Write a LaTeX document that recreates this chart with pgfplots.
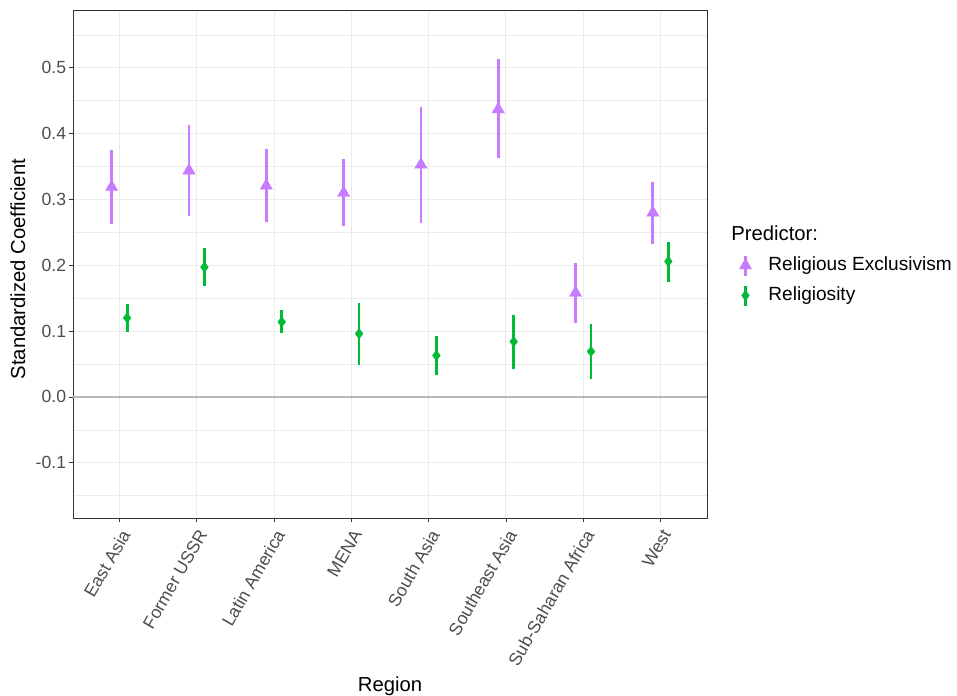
\documentclass[border=0pt]{standalone}
\usepackage{pgfplots}
\usepackage{pgfplotstable}
\pgfplotsset{compat=1.18}
\usepackage{fontspec}
\setmainfont{Liberation Sans}
\definecolor{cRE}{HTML}{C77CFF}
\definecolor{cRel}{HTML}{00BA38}
\definecolor{gridc}{HTML}{EBEBEB}
\definecolor{g30}{HTML}{4D4D4D}
\definecolor{g20}{HTML}{333333}
\pgfplotstableread{
x y lo hi
0.9 0.319 0.263 0.375
1.9 0.344 0.275 0.413
2.9 0.321 0.266 0.377
3.9 0.310 0.260 0.361
4.9 0.353 0.265 0.440
5.9 0.437 0.363 0.513
6.9 0.158 0.113 0.203
7.9 0.280 0.232 0.326
}\tabRE
\pgfplotstableread{
x y lo hi
1.1 0.120 0.098 0.141
2.1 0.197 0.169 0.226
3.1 0.114 0.097 0.132
4.1 0.096 0.049 0.142
5.1 0.063 0.033 0.093
6.1 0.084 0.042 0.125
7.1 0.069 0.027 0.111
8.1 0.206 0.175 0.236
}\tabRel
\begin{document}
\begin{tikzpicture}
\useasboundingbox (0,0) rectangle (717.75pt,522pt);
\begin{axis}[
  at={(54.75pt,133.5pt)}, anchor=south west,
  scale only axis, width=475.5pt, height=381pt,
  xmin=0.4, xmax=8.6, ymin=-0.184, ymax=0.588,
  xtick={1,...,8},
  xticklabels={East Asia,Former USSR,Latin America,MENA,South Asia,Southeast Asia,Sub-Saharan Africa,West},
  ytick={-0.1,0,0.1,0.2,0.3,0.4,0.5},
  yticklabels={-0.1,0.0,0.1,0.2,0.3,0.4,0.5},
  minor ytick={-0.15,-0.05,0.05,0.15,0.25,0.35,0.45,0.55},
  grid=both,
  major grid style={gridc, line width=0.75pt},
  minor grid style={gridc, line width=0.45pt},
  axis line style={g20, line width=0.5pt},
  tick align=outside, major tick length=3pt, minor tick length=0pt,
  tick style={g20, line width=0.6pt},
  xtick pos=bottom, ytick pos=left,
  ticklabel style={text=g30, font=\fontsize{13.2}{15}\selectfont},
  xticklabel style={yshift=-3pt, rotate=60, anchor=north east, inner sep=1pt},
  yticklabel style={inner sep=2pt},
  xlabel={Region}, ylabel={Standardized Coefficient},
  label style={font=\fontsize{15.2}{18}\selectfont, text=black},
  xlabel style={at={(axis description cs:0.5,-0.331)}, anchor=center},
  ylabel style={at={(axis description cs:-0.0868,0.49)}, anchor=center, rotate=0},
  error bars/y dir=both, error bars/y explicit,
  error bars/error mark=none,
  error bars/error bar style={line width=2.1pt},
  legend style={at={(axis description cs:1.041,0.4675)}, anchor=west, draw=none, fill=none,
    font=\fontsize{14.3}{17}\selectfont, row sep=5pt, inner sep=0pt,
    nodes={inner sep=2pt, text height=10.5pt, text depth=3pt}},
  legend cell align=left,
  legend image code/.code={\path (0pt,0pt) (24pt,0pt);\draw[#1, sharp plot, line width=2.1pt, mark repeat=2, mark phase=2] plot coordinates {(9pt,-7.5pt) (9pt,0pt) (9pt,7.5pt)};},
  clip=false,
]
\addplot[g30!40!white, line width=1.2pt, forget plot] coordinates {(0.4,0) (8.6,0)};
\addplot[cRE, only marks, mark=triangle*, mark size=5.3pt, mark options={line width=0.3pt, fill=cRE, draw=cRE}]
  table[x=x, y=y, y error plus expr=\thisrow{hi}-\thisrow{y}, y error minus expr=\thisrow{y}-\thisrow{lo}] {\tabRE};
\addlegendentry{Religious Exclusivism}
\addplot[cRel, only marks, mark=diamond*, mark size=3.9pt, mark options={line width=0.3pt, fill=cRel, draw=cRel}]
  table[x=x, y=y, y error plus expr=\thisrow{hi}-\thisrow{y}, y error minus expr=\thisrow{y}-\thisrow{lo}] {\tabRel};
\addlegendentry{Religiosity}
\node[anchor=west, font=\fontsize{15.2}{18}\selectfont, inner sep=0pt] at (axis description cs:1.038,0.561) {Predictor:};
\end{axis}
\end{tikzpicture}
\end{document}
